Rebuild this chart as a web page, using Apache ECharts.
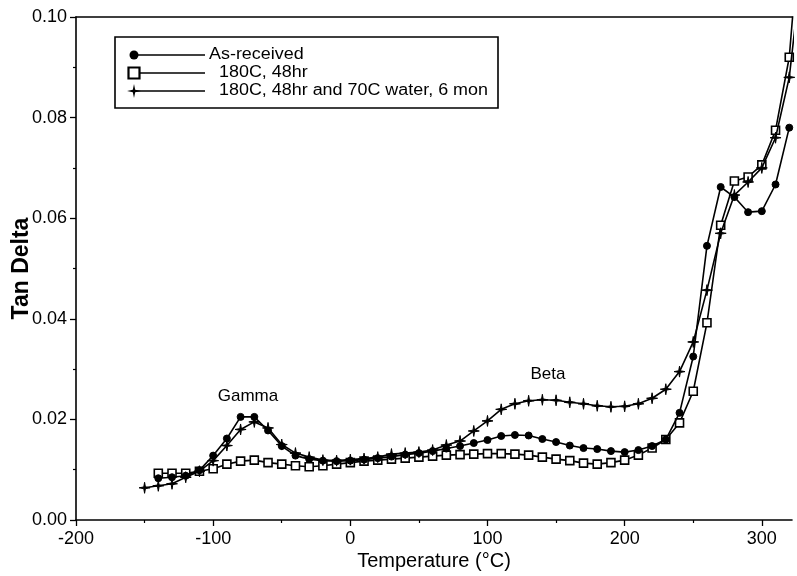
<!DOCTYPE html>
<html>
<head>
<meta charset="utf-8">
<style>
  html, body { margin: 0; padding: 0; background: #fff; }
  #chart { width: 797px; height: 576px; }
</style>
<script src="https://cdn.jsdelivr.net/npm/echarts@6/dist/echarts.min.js"></script>
</head>
<body>
<div id="chart"></div>
<script>
// Tan delta versus temperature for three conditioning histories
const seriesNames = ['As-received', '180C, 48hr', '180C, 48hr and 70C water, 6 mon'];

const asReceivedTemp = [-140, -130, -120, -110, -100, -90, -80, -70, -60, -50, -40, -30, -20, -10, 0,
  10, 20, 30, 40, 50, 60, 70, 80, 90, 100, 110, 120, 130, 140, 150, 160, 170, 180, 190, 200,
  210, 220, 230, 240, 250, 260, 270, 280, 290, 300, 310, 320];
const asReceivedTan = [0.0083, 0.0085, 0.0088, 0.0099, 0.0128, 0.0162, 0.0205, 0.0205, 0.0178, 0.0147,
  0.0128, 0.0121, 0.0118, 0.0117, 0.0118, 0.0120, 0.0123, 0.0126, 0.0130, 0.0133, 0.0137, 0.0142,
  0.0147, 0.0153, 0.0159, 0.0167, 0.0169, 0.0168, 0.0161, 0.0155, 0.0148, 0.0143, 0.0141, 0.0137,
  0.0135, 0.0139, 0.0147, 0.0160, 0.0213, 0.0325, 0.0545, 0.0662, 0.0642, 0.0612, 0.0614, 0.0667, 0.0780];

const heatTemp = [-140, -130, -120, -110, -100, -90, -80, -70, -60, -50, -40, -30, -20, -10, 0,
  10, 20, 30, 40, 50, 60, 70, 80, 90, 100, 110, 120, 130, 140, 150, 160, 170, 180, 190, 200,
  210, 220, 230, 240, 250, 260, 270, 280, 290, 300, 310, 320, 330];
const heatTan = [0.0093, 0.0093, 0.0093, 0.0097, 0.0102, 0.0111, 0.0117, 0.0119, 0.0114, 0.0111,
  0.0108, 0.0106, 0.0108, 0.0111, 0.0114, 0.0117, 0.0119, 0.0121, 0.0123, 0.0125, 0.0127, 0.0129,
  0.0130, 0.0131, 0.0132, 0.0132, 0.0131, 0.0129, 0.0125, 0.0121, 0.0118, 0.0113, 0.0111, 0.0114,
  0.0119, 0.0129, 0.0143, 0.0160, 0.0193, 0.0256, 0.0392, 0.0586, 0.0674, 0.0682, 0.0706, 0.0775,
  0.0920, 0.1250];

const waterTemp = [-150, -140, -130, -120, -110, -100, -90, -80, -70, -60, -50, -40, -30, -20, -10, 0,
  10, 20, 30, 40, 50, 60, 70, 80, 90, 100, 110, 120, 130, 140, 150, 160, 170, 180, 190, 200,
  210, 220, 230, 240, 250, 260, 270, 280, 290, 300, 310, 320, 330];
const waterTan = [0.0064, 0.0068, 0.0072, 0.0085, 0.0097, 0.0118, 0.0148, 0.0180, 0.0195, 0.0183,
  0.0150, 0.0133, 0.0125, 0.0119, 0.0118, 0.0120, 0.0122, 0.0125, 0.0131, 0.0133, 0.0135, 0.0139,
  0.0149, 0.0157, 0.0177, 0.0197, 0.0220, 0.0231, 0.0237, 0.0239, 0.0238, 0.0234, 0.0231, 0.0227,
  0.0225, 0.0226, 0.0231, 0.0242, 0.0260, 0.0295, 0.0354, 0.0457, 0.0570, 0.0646, 0.0672, 0.0700,
  0.0760, 0.0880, 0.1120];

const xTicks = [-200, -100, 0, 100, 200, 300];
const xMinorTicks = [-150, -50, 50, 150, 250];

const FONT = '"Liberation Sans", Arial, Helvetica, sans-serif';
const starPath = 'path://M0,-6 L0.9,-0.9 L6,0 L0.9,0.9 L0,6 L-0.9,0.9 L-6,0 L-0.9,-0.9 Z';

function pairs(xs, ys) { return xs.map((x, i) => [x, ys[i]]); }

const chart = echarts.init(document.getElementById('chart'), null, { renderer: 'canvas' });

const lineStyle = { color: '#000', width: 1.6 };
const gridBox = { left: 76, right: 5, top: 17, bottom: 56, containLabel: false, outerBoundsMode: 'none' };
const X_MIN = -200, X_MAX = 322;

// legend text is set slightly wide, like the rest of the lettering
const legendText = (label, x, y) => ({
  type: 'text', x: x, y: y, scaleX: 1.12, z: 12,
  style: { text: label, fontFamily: FONT, fontSize: 16, fill: '#000', verticalAlign: 'middle' }
});

chart.setOption({
  animation: false,
  backgroundColor: '#fff',
  grid: [Object.assign({}, gridBox), Object.assign({}, gridBox)],
  xAxis: [{
    gridIndex: 0, type: 'value', min: X_MIN, max: X_MAX, interval: 100, position: 'bottom',
    name: 'Temperature (°C)', nameLocation: 'middle', nameGap: 31, nameMoveOverlap: false,
    nameTextStyle: { fontFamily: FONT, fontSize: 20, color: '#000' },
    axisLine: { onZero: false, lineStyle: { color: '#000', width: 1.6 } },
    axisTick: { customValues: xTicks, length: 6, lineStyle: { color: '#000', width: 1.3 } },
    axisLabel: { customValues: xTicks, fontFamily: FONT, fontSize: 18, color: '#000', margin: 10 },
    splitLine: { show: false }
  }, {
    // upper frame line
    gridIndex: 0, type: 'value', min: X_MIN, max: X_MAX, position: 'top',
    axisLine: { onZero: false, lineStyle: { color: '#000', width: 1.6 } },
    axisTick: { show: false }, axisLabel: { show: false }, splitLine: { show: false }
  }, {
    // minor ticks on the temperature axis
    gridIndex: 1, type: 'value', min: X_MIN, max: X_MAX, position: 'bottom',
    axisLine: { show: false, onZero: false },
    axisTick: { customValues: xMinorTicks, length: 3, lineStyle: { color: '#000', width: 1.2 } },
    axisLabel: { show: false }, splitLine: { show: false }
  }],
  yAxis: [{
    gridIndex: 0, type: 'value', min: 0, max: 0.1, interval: 0.02,
    name: 'Tan Delta', nameLocation: 'middle', nameGap: 43, nameMoveOverlap: false,
    nameTextStyle: { fontFamily: FONT, fontSize: 23, fontWeight: 'bold', color: '#000' },
    axisLine: { onZero: false, lineStyle: { color: '#000', width: 1.6 } },
    axisTick: { length: 6, lineStyle: { color: '#000', width: 1.3 } },
    minorTick: { show: true, splitNumber: 2, length: 3, lineStyle: { color: '#000', width: 1.2 } },
    axisLabel: { fontFamily: FONT, fontSize: 18, color: '#000', margin: 9,
      formatter: v => v.toFixed(2) },
    splitLine: { show: false }
  }, {
    gridIndex: 1, type: 'value', min: 0, max: 0.1, show: false
  }],
  series: [{
    name: seriesNames[0], type: 'line', data: pairs(asReceivedTemp, asReceivedTan),
    symbol: 'circle', symbolSize: 7, lineStyle,
    itemStyle: { color: '#000', borderColor: '#000' }, z: 3
  }, {
    name: seriesNames[1], type: 'line', data: pairs(heatTemp, heatTan),
    symbol: 'rect', symbolSize: 8, lineStyle,
    itemStyle: { color: '#fff', borderColor: '#000', borderWidth: 1.6 }, z: 2
  }, {
    name: seriesNames[2], type: 'line', data: pairs(waterTemp, waterTan),
    symbol: starPath, symbolSize: 11, lineStyle,
    itemStyle: { color: '#000', borderColor: '#000' }, z: 4
  }],
  graphic: [
    // legend box
    { type: 'rect', shape: { x: 115, y: 37, width: 383, height: 71 },
      style: { fill: '#fff', stroke: '#000', lineWidth: 1.6 }, z: 10 },
    { type: 'line', shape: { x1: 134, y1: 55, x2: 205, y2: 55 }, style: { stroke: '#000', lineWidth: 1.3 }, z: 11 },
    { type: 'circle', shape: { cx: 134, cy: 55, r: 4.5 }, style: { fill: '#000' }, z: 12 },
    legendText(seriesNames[0], 209, 55),
    { type: 'line', shape: { x1: 134, y1: 73, x2: 205, y2: 73 }, style: { stroke: '#000', lineWidth: 1.3 }, z: 11 },
    { type: 'rect', shape: { x: 128.5, y: 67.5, width: 11, height: 11 }, style: { fill: '#fff', stroke: '#000', lineWidth: 2.2 }, z: 12 },
    legendText(seriesNames[1], 219, 73),
    { type: 'line', shape: { x1: 134, y1: 91, x2: 205, y2: 91 }, style: { stroke: '#000', lineWidth: 1.3 }, z: 11 },
    { type: 'polygon', shape: { points: [[134, 84], [135.2, 89.8], [141, 91], [135.2, 92.2], [134, 98], [132.8, 92.2], [127, 91], [132.8, 89.8]] },
      style: { fill: '#000' }, z: 12 },
    legendText(seriesNames[2], 219, 91),
    // peak annotations
    { type: 'text', x: 248, y: 396, style: { text: 'Gamma', fontFamily: FONT, fontSize: 17, fill: '#000', align: 'center', verticalAlign: 'middle' }, z: 12 },
    { type: 'text', x: 548, y: 374, style: { text: 'Beta', fontFamily: FONT, fontSize: 17, fill: '#000', align: 'center', verticalAlign: 'middle' }, z: 12 }
  ]
});
</script>
</body>
</html>
